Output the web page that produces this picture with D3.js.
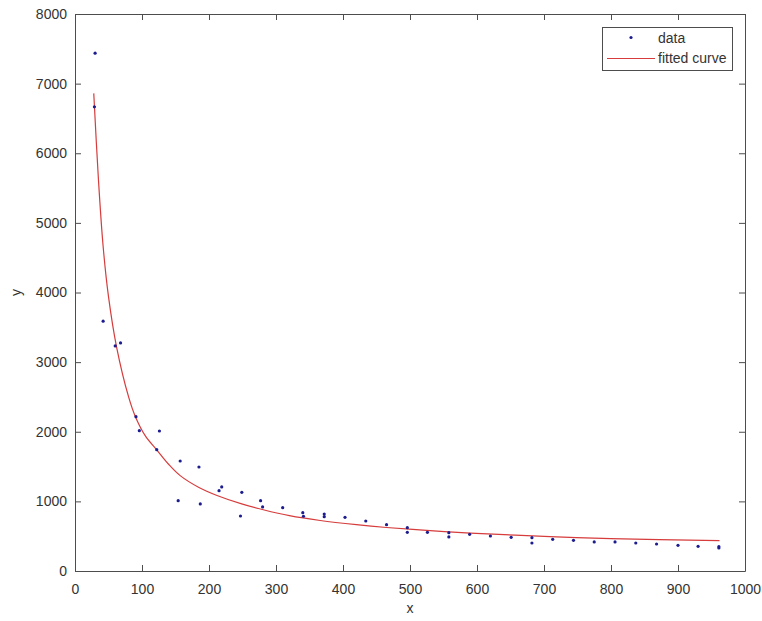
<!DOCTYPE html>
<html lang="en">
<head>
  <meta charset="UTF-8">
  <title>data and fitted curve</title>
  <style>
    body { margin: 0; background: #fff; }
    svg { display: block; font-family: "Liberation Sans", Arial, sans-serif; }
  </style>
</head>
<body>
  <script src="https://d3js.org/d3.v7.min.js"></script>
  <script>
    // measured points (x, y)
    const dataX = [30, 29, 42, 60, 68, 91, 96, 126, 122, 157, 154, 185, 187, 215, 219, 249, 247, 277, 280, 310,
                   340, 341, 372, 372, 403, 434, 465, 496, 496, 526, 558, 558, 589, 620, 651, 682, 682, 713, 744,
                   775, 806, 837, 868, 900, 930, 961, 961];
    const dataY = [7437, 6667, 3588, 3233, 3276, 2217, 2016, 2011, 1743, 1580, 1010, 1494, 963, 1154, 1207, 1130, 790, 1010, 920, 910,
                   838, 786, 819, 780, 771, 718, 665, 622, 556, 556, 551, 489, 527, 503, 484, 478, 402, 455, 441,
                   417, 417, 402, 388, 369, 355, 350, 330];

    // fitted curve
    const fitX = [28, 35, 42, 50, 62, 80, 90, 105, 122, 140, 157, 185, 212, 250, 281, 320, 366, 420, 465, 530, 590, 709, 800, 962];
    const fitY = [6860, 5620, 4660, 3940, 3220, 2500, 2220, 1940, 1740, 1530, 1370, 1200, 1085, 960, 880, 795, 725, 665, 625, 580, 545, 493, 465, 435];

    const xTicks = [0, 100, 200, 300, 400, 500, 600, 700, 800, 900, 1000];
    const yTicks = [0, 1000, 2000, 3000, 4000, 5000, 6000, 7000, 8000];

    const width = 762, height = 621;
    const margin = { left: 75, right: 17, top: 14, bottom: 50 };
    const axisColor = "#4d4d4d";

    const svg = d3.select("body").append("svg")
      .attr("width", width)
      .attr("height", height);

    const x = d3.scaleLinear().domain([0, 1000]).range([margin.left, width - margin.right]);
    const y = d3.scaleLinear().domain([0, 8000]).range([height - margin.bottom, margin.top]);

    function styleAxis(g, showLabels) {
      g.select(".domain").attr("stroke", axisColor);
      g.selectAll(".tick line").attr("stroke", axisColor);
      g.selectAll(".tick text")
        .attr("fill", "#333")
        .style("font-size", "14px")
        .style("display", showLabels ? null : "none");
    }

    const fmt = d3.format("d");

    svg.append("g")
      .attr("transform", `translate(0,${y(0)})`)
      .call(d3.axisBottom(x).tickValues(xTicks).tickFormat(fmt).tickSizeInner(-6).tickSizeOuter(0).tickPadding(13))
      .call(g => styleAxis(g, true));

    svg.append("g")
      .attr("transform", `translate(0,${y(8000)})`)
      .call(d3.axisTop(x).tickValues(xTicks).tickSizeInner(-6).tickSizeOuter(0))
      .call(g => styleAxis(g, false));

    svg.append("g")
      .attr("transform", `translate(${x(0)},0)`)
      .call(d3.axisLeft(y).tickValues(yTicks).tickFormat(fmt).tickSizeInner(-6).tickSizeOuter(0).tickPadding(8))
      .call(g => styleAxis(g, true));

    svg.append("g")
      .attr("transform", `translate(${x(1000)},0)`)
      .call(d3.axisRight(y).tickValues(yTicks).tickSizeInner(-6).tickSizeOuter(0))
      .call(g => styleAxis(g, false));

    // axis labels
    svg.append("text")
      .attr("x", (x(0) + x(1000)) / 2)
      .attr("y", 613)
      .attr("text-anchor", "middle")
      .attr("fill", "#333")
      .style("font-size", "14px")
      .text("x");

    svg.append("text")
      .attr("transform", `translate(21,${(y(0) + y(8000)) / 2}) rotate(-90)`)
      .attr("text-anchor", "middle")
      .attr("fill", "#333")
      .style("font-size", "14px")
      .text("y");

    // fitted curve
    const line = d3.line()
      .x(d => x(d[0]))
      .y(d => y(d[1]))
      .curve(d3.curveCatmullRom.alpha(0.5));

    svg.append("path")
      .datum(d3.zip(fitX, fitY))
      .attr("d", line)
      .attr("fill", "none")
      .attr("stroke", "#d63c3c")
      .attr("stroke-width", 1.2);

    // data points
    svg.append("g")
      .selectAll("circle")
      .data(d3.zip(dataX, dataY))
      .join("circle")
      .attr("cx", d => x(d[0]))
      .attr("cy", d => y(d[1]))
      .attr("r", 1.6)
      .attr("fill", "#1c1c8f");

    // legend
    const legend = svg.append("g");
    legend.append("rect")
      .attr("x", 602.5).attr("y", 27.5)
      .attr("width", 130).attr("height", 43)
      .attr("fill", "#fff")
      .attr("stroke", axisColor);
    legend.append("circle")
      .attr("cx", 631).attr("cy", 37.5).attr("r", 1.6)
      .attr("fill", "#1c1c8f");
    legend.append("line")
      .attr("x1", 607).attr("x2", 655)
      .attr("y1", 58.5).attr("y2", 58.5)
      .attr("stroke", "#d63c3c")
      .attr("stroke-width", 1.2);
    legend.append("text")
      .attr("x", 658).attr("y", 43)
      .attr("fill", "#333")
      .style("font-size", "14px")
      .text("data");
    legend.append("text")
      .attr("x", 658).attr("y", 63)
      .attr("fill", "#333")
      .style("font-size", "14px")
      .text("fitted curve");
  </script>
</body>
</html>
